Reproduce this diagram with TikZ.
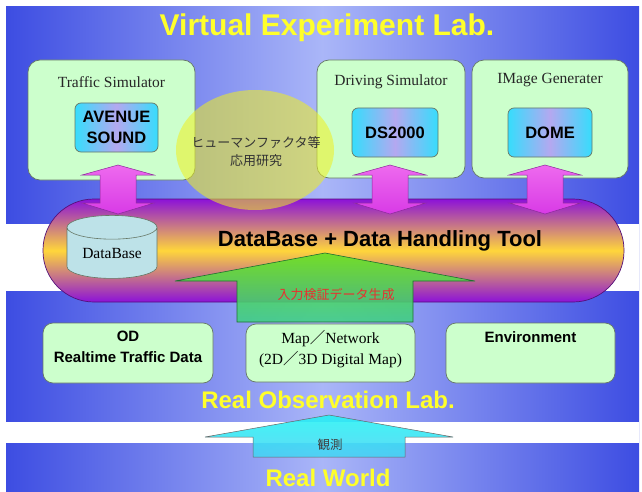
\documentclass[tikz,border=0pt]{standalone}
\usepackage{fontspec}
\setmainfont{Liberation Serif}
\setsansfont{Liberation Sans}
\newfontfamily\jpfont{Noto Sans CJK JP}
\usetikzlibrary{calc,positioning,shapes.geometric}

\definecolor{bgedge}{HTML}{3D4DE2}
\definecolor{bgmid}{HTML}{AAB6F8}
\definecolor{boxgreen}{HTML}{CCFFCC}
\definecolor{boxline}{HTML}{667766}
\definecolor{simcyan}{HTML}{36DDFC}
\definecolor{simlav}{HTML}{B4A8F0}
\definecolor{tubepurple}{HTML}{8C12D8}
\definecolor{tubeyellow}{HTML}{FFD63A}
\definecolor{tubeline}{HTML}{55107A}
\definecolor{dbfill}{HTML}{BDE2E8}
\definecolor{arrpink}{HTML}{D83AE6}
\definecolor{arrpinklight}{HTML}{EE6AEE}
\definecolor{arrpinkline}{HTML}{8A2A9A}
\definecolor{arrgreen}{HTML}{62E024}
\definecolor{arrgreenlow}{HTML}{3ECF86}
\definecolor{arrgreenline}{HTML}{1F6F2F}
\definecolor{arrcyan}{HTML}{1EF4F4}
\definecolor{arrcyanlow}{HTML}{44D4F4}
\definecolor{labyellow}{HTML}{FFFF2A}
\definecolor{hfyellow}{HTML}{F0F020}
\definecolor{genred}{HTML}{E83030}

% double fat arrow between a box and the tube
\newcommand{\dblfat}[3][]{%
  \path[pinkfat,#1] let \p1=#2, \p2=#3 in
    (\x1,\y1) -- (\x1+36pt,\y1-10pt) -- (\x1+18pt,\y1-10pt) -- (\x1+18pt,\y2+11pt)
    -- (\x1+36pt,\y2+11pt) -- (\x1,\y2) -- (\x1-36pt,\y2+11pt) -- (\x1-18pt,\y2+11pt)
    -- (\x1-18pt,\y1-10pt) -- (\x1-36pt,\y1-10pt) -- cycle;}

% fat up arrow: tip, bottom, head half width, shaft half width, head length
\newcommand{\upfat}[6][]{%
  \path[#1] let \p1=#2, \p2=#3 in
    (\x1,\y1) -- (\x1+#4,\y1-#6) -- (\x1+#5,\y1-#6) -- (\x1+#5,\y2)
    -- (\x1-#5,\y2) -- (\x1-#5,\y1-#6) -- (\x1-#4,\y1-#6) -- cycle;}

\tikzset{
  labtitle/.style={text=labyellow, font=\sffamily\bfseries\fontsize{24}{28}\selectfont},
  simbox/.style={draw=boxline, line width=0.7pt, fill=boxgreen, rounded corners=12pt},
  simlabel/.style={text=black!85, font=\fontsize{15.5}{18}\selectfont},
  toolbox/.style={draw=boxline, line width=0.7pt, rounded corners=6pt,
    left color=simcyan, right color=simcyan, middle color=simlav,
    align=center, font=\sffamily\bfseries\fontsize{16.5}{21}\selectfont},
  obsbox/.style={draw=boxline, line width=0.7pt, fill=boxgreen, rounded corners=10pt},
  obslabel/.style={anchor=north, align=center},
  pinkfat/.style={draw=arrpinkline, line width=0.5pt, top color=arrpinklight, bottom color=arrpink},
  greenfat/.style={draw=arrgreenline, line width=0.6pt, top color=arrgreen, bottom color=arrgreenlow, fill opacity=0.88},
  cyanfat/.style={draw=black!60, line width=0.5pt, top color=arrcyan, bottom color=arrcyanlow, fill opacity=0.85},
}

\begin{document}
\begin{tikzpicture}[x=1pt,y=-1pt,inner sep=0pt,outer sep=0pt]
    \useasboundingbox (0,0) rectangle (642,492);
    % background and white bands
    \fill[left color=bgedge, right color=bgedge, middle color=bgmid] (6,7) rectangle (639,492);
    \fill[white] (6,224) rectangle (639,291);
    \fill[white] (6,422) rectangle (639,443);

    \node[labtitle, font=\sffamily\bfseries\fontsize{30}{34}\selectfont] (virtlab) at (327,28)
    {Virtual Experiment Lab.};

    % simulators
    \node[simbox, minimum width=167pt, minimum height=120pt] (traffic) at (111.5,120) {};
    \node[simbox, minimum width=148pt, minimum height=118pt] (driving) at (391,119) {};
    \node[simbox, minimum width=156pt, minimum height=118pt] (imagegen) at (550,119) {};

    \node[simlabel] (traffic_cap) at ($(traffic.north)+(0,22)$) {Traffic Simulator};
    \node[simlabel] (driving_cap) at ($(driving.north)+(0,22)$) {Driving Simulator};
    \node[simlabel] (imagegen_cap) at ($(imagegen.north)+(0,20)$) {IMage Generater};

    \node[toolbox, minimum width=83pt, minimum height=49pt] (avenue) at (116.5,127.5) {AVENUE\\SOUND};
    \node[toolbox, minimum width=86pt, minimum height=49pt] (ds2000) at (395,132.5) {DS2000};
    \node[toolbox, minimum width=84pt, minimum height=49pt] (dome) at (550,132.5) {DOME};

    % database tube
    \node[draw=tubeline, line width=0.7pt, rounded corners=51pt, minimum width=581pt, minimum height=103pt,
      top color=tubepurple, bottom color=tubepurple, middle color=tubeyellow] (tube) at (333.5,250.5) {};
    \node[font=\sffamily\bfseries\fontsize{22}{26}\selectfont] (tube_cap) at (380,241)
    {DataBase + Data Handling Tool};

    \node[cylinder, shape border rotate=90, aspect=0.4, draw=boxline, line width=0.6pt, fill=dbfill,
      minimum width=90pt, minimum height=63pt, font=\fontsize{15.5}{18}\selectfont] (database) at (112,253) {DataBase};

    % input data generation
    \coordinate (gen_tip) at (325,253);
    \coordinate (gen_bot) at (325,322);
    \upfat[greenfat]{(gen_tip)}{(gen_bot)}{150pt}{88pt}{28pt}
    \node[text=genred, font=\jpfont\fontsize{13}{15}\selectfont] (gen_cap) at (336,295) {入力検証データ生成};

    % human factors
    \node[ellipse, fill=hfyellow, fill opacity=0.55, minimum width=158pt, minimum height=120pt] (humanf) at (255,150) {};
    \node[align=center, text=black!80, font=\jpfont\fontsize{13}{18}\selectfont] (humanf_cap) at (256,152)
    {ヒューマンファクタ等\\応用研究};

    % links simulators <-> tube
    \coordinate (tr_top) at ($(avenue.south)+(1.5,13)$);
    \coordinate (tr_bot) at ($(tr_top |- tube.north)+(0,15)$);
    \coordinate (dr_top) at ($(ds2000.south)+(-5,8)$);
    \coordinate (dr_bot) at ($(dr_top |- tube.north)+(0,15)$);
    \coordinate (ig_top) at ($(dome.south)+(-5,8)$);
    \coordinate (ig_bot) at ($(ig_top |- tube.north)+(0,15)$);
    \dblfat{(tr_top)}{(tr_bot)}
    \dblfat{(dr_top)}{(dr_bot)}
    \dblfat{(ig_top)}{(ig_bot)}

    % real observation
    \node[obsbox, minimum width=170pt, minimum height=60pt] (od) at (128,353) {};
    \node[obsbox, minimum width=169pt, minimum height=58pt] (mapnet) at (330.5,353) {};
    \node[obsbox, minimum width=169pt, minimum height=60pt] (env) at (530.5,353) {};

    \node[obslabel, font=\sffamily\bfseries\fontsize{15}{21}\selectfont] (od_cap) at ($(od.north)+(0,8)$)
    {OD\\Realtime Traffic Data};
    \node[obslabel, font=\fontsize{15.5}{21}\selectfont] (mapnet_cap) at ($(mapnet.north)+(0,6)$)
    {Map{\jpfont ／}Network\\(2D{\jpfont ／}3D Digital Map)};
    \node[obslabel, font=\sffamily\bfseries\fontsize{15}{21}\selectfont] (env_cap) at ($(env.north)+(0,9)$)
    {Environment};

    \node[labtitle] (obslab) at (328,400) {Real Observation Lab.};

    % observation arrow
    \coordinate (obs_tip) at (329,415);
    \coordinate (obs_bot) at (329,457);
    \upfat[cyanfat]{(obs_tip)}{(obs_bot)}{124pt}{76pt}{22pt}
    \node[text=black!75, font=\jpfont\fontsize{12.5}{15}\selectfont] (obs_cap) at (330,445) {観測};

    \node[labtitle] (world) at (328,478) {Real World};
\end{tikzpicture}
\end{document}
